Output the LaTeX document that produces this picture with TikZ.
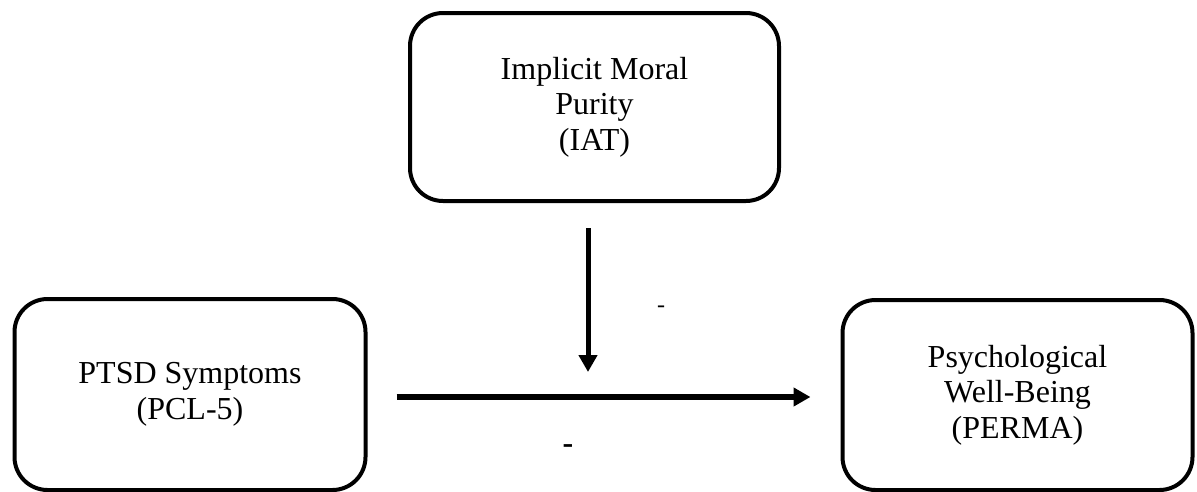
\documentclass[tikz,border=0pt]{standalone}
\usepackage{fontspec}
\setmainfont{Liberation Serif}
\usetikzlibrary{arrows.meta}
\begin{document}
\begin{tikzpicture}[x=1pt,y=-1pt,
  box/.style={draw=black, line width=4pt, rounded corners=33pt, align=center,
    font=\fontsize{32}{35.5}\selectfont, inner sep=0pt},
  arr/.style={line width=5pt, -{Triangle[length=17pt,width=18pt]}},
  sign/.style={font=\fontsize{32}{35}\selectfont, inner sep=0pt}]
\useasboundingbox (0,0) rectangle (1197,491);
\node[box, minimum width=369pt, minimum height=188pt] (iat) at (594.5,107)
  {Implicit Moral\\Purity\\(IAT)};
\node[box, minimum width=351pt, minimum height=191pt] (ptsd) at (190,394.5)
  {PTSD Symptoms\\(PCL-5)};
\node[box, minimum width=350pt, minimum height=190pt] (perma) at (1017.5,395)
  {Psychological\\Well-Being\\(PERMA)};
\coordinate (vtop) at (588,228);
\coordinate (vtip) at (588,372);
\draw[arr] (vtop) -- (vtip);
\draw[arr, line width=6pt, shorten <=29pt, shorten >=30pt] (ptsd.east |- 0,397) -- (perma.west |- 0,397);
\node[sign, font=\fontsize{24}{26}\selectfont] (s1) at (661,309) {-};
\node[sign, font=\bfseries\fontsize{32}{35}\selectfont] (s2) at (568,449) {-};
\end{tikzpicture}
\end{document}
